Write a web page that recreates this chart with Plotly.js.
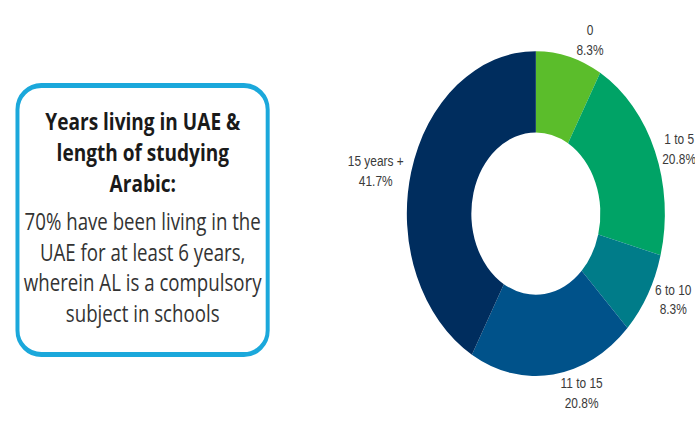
<html><head>
<title>Years living in UAE</title>
<script src="https://cdn.plot.ly/plotly-3.0.1.min.js"></script>
<style>
  body { margin: 0; padding: 0; background: white; overflow: hidden; }
  #chart { width: 875px; height: 423px; transform: scaleX(0.7943); transform-origin: 0 0; }
</style>
</head>
<body>
<div id="chart"></div>
<script>
// slices, clockwise from 12 o'clock
const labels = ['0', '1 to 5', '6 to 10', '11 to 15', '15 years +'];
const shares = [8.3, 20.8, 8.3, 20.8, 41.7];
const sliceColors = ['#5bbd2b', '#00a366', '#007c89', '#00528a', '#002d5e'];

const boxTitle = ['Years living in UAE &', 'length of studying', 'Arabic:'];
const boxBody = ['70% have been living in the', 'UAE for at least 6 years,', 'wherein AL is a compulsory', 'subject in schools'];

const W = 875, H = 423;
const px = x => x / W;
const py = y => 1 - y / H;

// rounded box path (pixel values from the top-left, converted to paper)
function roundedBox(x0, y0, x1, y1, rx, ry) {
  const k = 0.5523;
  const p = (x, y) => px(x) + ',' + py(y);
  return 'M' + p(x0 + rx, y0) +
    ' L' + p(x1 - rx, y0) +
    ' C' + p(x1 - rx + k * rx, y0) + ' ' + p(x1, y0 + ry - k * ry) + ' ' + p(x1, y0 + ry) +
    ' L' + p(x1, y1 - ry) +
    ' C' + p(x1, y1 - ry + k * ry) + ' ' + p(x1 - rx + k * rx, y1) + ' ' + p(x1 - rx, y1) +
    ' L' + p(x0 + rx, y1) +
    ' C' + p(x0 + rx - k * rx, y1) + ' ' + p(x0, y1 - ry + k * ry) + ' ' + p(x0, y1 - ry) +
    ' L' + p(x0, y0 + ry) +
    ' C' + p(x0, y0 + ry - k * ry) + ' ' + p(x0 + rx - k * rx, y0) + ' ' + p(x0 + rx, y0) + ' Z';
}

const donut = {
  type: 'pie',
  labels: labels,
  values: shares,
  hole: 0.5,
  sort: false,
  direction: 'clockwise',
  rotation: 0,
  marker: { colors: sliceColors, line: { width: 0 } },
  textposition: 'outside',
  texttemplate: '%{label}<br>%{percent:.1%}',
  outsidetextfont: { family: 'Liberation Sans, Arial, sans-serif', size: 15, color: '#3a3a3a' },
  domain: { x: [0.581, 0.961], y: [0.111, 0.879] },
  hoverinfo: 'label+percent'
};

const layout = {
  width: W,
  height: H,
  margin: { l: 0, r: 0, t: 0, b: 0 },
  showlegend: false,
  paper_bgcolor: 'white',
  shapes: [{
    type: 'path',
    xref: 'paper', yref: 'paper',
    path: roundedBox(22, 85.5, 337, 354.5, 30, 24),
    line: { color: '#1ba8db', width: 5 },
    fillcolor: 'white'
  }],
  annotations: [{
    xref: 'paper', yref: 'paper',
    x: px(179.5), y: py(151.5),
    xanchor: 'center', yanchor: 'middle',
    showarrow: false,
    align: 'center',
    text: boxTitle.map(t => '<b>' + t + '</b>').join('<br>'),
    font: { family: 'Open Sans, sans-serif', size: 24, color: '#1a1a1a' }
  }, {
    xref: 'paper', yref: 'paper',
    x: px(179.5), y: py(266.5),
    xanchor: 'center', yanchor: 'middle',
    showarrow: false,
    align: 'center',
    text: boxBody.join('<br>'),
    font: { family: 'Open Sans, sans-serif', size: 23.5, color: '#333333' }
  }]
};

Plotly.newPlot('chart', [donut], layout, { displayModeBar: false, staticPlot: true });
</script>
</body></html>
